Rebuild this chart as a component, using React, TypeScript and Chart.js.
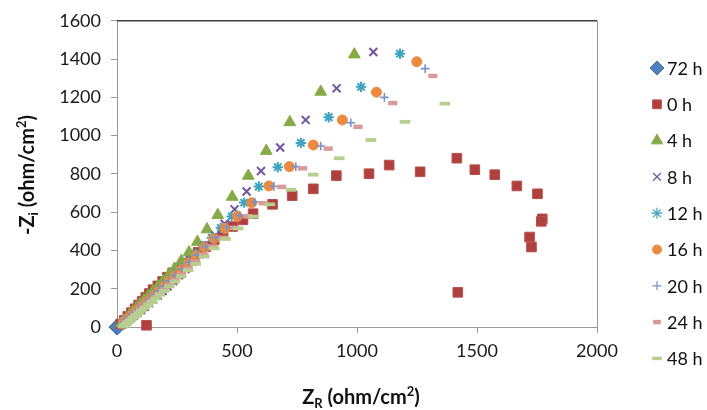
import React, { useEffect, useRef } from 'react';
import { Chart, registerables } from 'chart.js';
import { drawPoint } from 'chart.js/helpers';

Chart.register(...registerables);

// ---- data (Z_R, -Z_i) in ohm/cm2 ----
const seriesNames = ['72 h', '0 h', '4 h', '8 h', '12 h', '16 h', '20 h', '24 h', '48 h'];
const xTicks = [0, 500, 1000, 1500, 2000];
const yTicks = [0, 200, 400, 600, 800, 1000, 1200, 1400, 1600];

const h72: number[][] = [[0, 0], [1, 1], [2, 1]];
const h0: number[][] = [
  [15, 15], [30, 35], [45, 55], [60, 75], [75, 95], [90, 115], [105, 135], [120, 155], [135, 175],
  [150, 195], [170, 215], [190, 238], [210, 260], [232, 283], [255, 307], [280, 333], [308, 360],
  [338, 390], [370, 420], [405, 455], [442, 490], [482, 525], [525, 560], [567, 592], [648, 641],
  [730, 686], [818, 722], [914, 791], [1050, 801], [1134, 846], [1263, 811], [1416, 882],
  [1491, 822], [1574, 796], [1666, 737], [1752, 696], [1772, 565], [1768, 552], [1719, 470],
  [1727, 418], [1420, 181], [123, 9],
];
const h4: number[][] = [
  [18, 20], [28, 32], [40, 46], [52, 62], [65, 80], [80, 98], [95, 118], [112, 140], [130, 162],
  [150, 187], [170, 212], [192, 240], [215, 270], [240, 305], [268, 345], [300, 390], [335, 445],
  [375, 510], [420, 585], [480, 680], [547, 790], [622, 920], [720, 1070], [849, 1229], [989, 1424],
];
const h8: number[][] = [
  [30, 21], [43, 32], [56, 44], [70, 58], [85, 73], [100, 89], [116, 106], [133, 124], [151, 144],
  [170, 165], [190, 188], [211, 212], [234, 240], [258, 270], [285, 303], [313, 340], [343, 380],
  [375, 425], [410, 478], [448, 540], [490, 615], [540, 708], [600, 815], [680, 938], [786, 1082],
  [915, 1247], [1068, 1437],
];
const h12: number[][] = [
  [22, 21], [33, 33], [45, 46], [58, 60], [71, 75], [85, 90], [99, 106], [114, 123], [130, 141],
  [146, 160], [164, 180], [183, 202], [203, 226], [225, 252], [248, 281], [273, 312], [300, 346],
  [329, 383], [360, 422], [395, 467], [433, 518], [478, 578], [530, 650], [591, 734], [670, 835],
  [766, 962], [882, 1096], [1017, 1255], [1179, 1428],
];
const h16: number[][] = [
  [29, 27], [40, 38], [52, 51], [65, 65], [78, 79], [92, 94], [107, 110], [122, 127], [139, 146],
  [156, 166], [175, 188], [196, 212], [218, 239], [242, 268], [269, 300], [298, 335], [330, 373],
  [365, 415], [405, 462], [450, 515], [502, 578], [561, 649], [633, 737], [718, 838], [818, 951],
  [939, 1082], [1081, 1227], [1249, 1386],
];
const h20: number[][] = [
  [29, 27], [40, 39], [52, 52], [65, 66], [78, 80], [92, 95], [106, 111], [122, 128], [138, 147],
  [156, 167], [175, 189], [195, 213], [218, 240], [243, 270], [270, 302], [300, 338], [333, 377],
  [370, 420], [411, 467], [458, 521], [512, 582], [574, 653], [654, 735], [745, 838], [849, 946],
  [974, 1067], [1114, 1200], [1284, 1350],
];
const h24: number[][] = [
  [28, 12], [39, 23], [50, 35], [62, 48], [74, 61], [87, 75], [100, 89], [114, 104], [129, 120],
  [145, 137], [161, 155], [179, 174], [199, 196], [220, 219], [243, 245], [269, 274], [297, 305],
  [328, 340], [362, 378], [400, 420], [442, 466], [490, 518], [545, 578], [609, 647], [686, 732],
  [773, 829], [880, 932], [1004, 1046], [1149, 1170], [1316, 1312],
];
const h48: number[][] = [
  [25, 2], [32, 8], [40, 17], [49, 27], [59, 38], [69, 49], [80, 61], [91, 73], [103, 86],
  [116, 100], [130, 115], [145, 131], [161, 149], [178, 168], [197, 189], [218, 212], [241, 237],
  [267, 265], [296, 296], [328, 330], [364, 368], [405, 411], [452, 460], [505, 515], [567, 577],
  [637, 641], [725, 717], [818, 796], [926, 882], [1058, 977], [1200, 1072], [1366, 1167],
];

const seriesData = [h72, h0, h4, h8, h12, h16, h20, h24, h48];

// ---- styles ----
const styles = [
  { pointStyle: 'rectRot', radius: 8, bg: '#4F81BD', border: '#3F6EA8', bw: 1, lr: 7, lbw: 1 },
  { pointStyle: 'rect', radius: 6.8, bg: '#B0403D', border: '#B5504D', bw: 1, lr: 6.2, lbw: 1 },
  { pointStyle: 'triangle', radius: 6.8, bg: '#86AA46', border: '#86AA46', bw: 1, lr: 6.5, lbw: 1 },
  { pointStyle: 'crossRot', radius: 5.6, bg: '#7256A0', border: '#7256A0', bw: 2, lr: 5.5, lbw: 1.2 },
  { pointStyle: 'star', radius: 5.2, bg: '#3DA3BF', border: '#3DA3BF', bw: 2, lr: 5.5, lbw: 1.2 },
  { pointStyle: 'circle', radius: 5, bg: '#EC8A3F', border: '#EC8A3F', bw: 1, lr: 4.5, lbw: 1 },
  { pointStyle: 'cross', radius: 4.3, bg: '#7394CE', border: '#7394CE', bw: 1.6, lr: 4.5, lbw: 1.2 },
  { pointStyle: 'line', radius: 4.6, bg: '#D99B9A', border: '#D99B9A', bw: 4.5, lr: 3.8, lbw: 4.5 },
  { pointStyle: 'line', radius: 5.3, bg: '#B7CF8E', border: '#B7CF8E', bw: 3.8, lr: 4.8, lbw: 3.5 },
];

const FONT = 'Lato, "Open Sans", sans-serif';

function drawRich(ctx: CanvasRenderingContext2D, parts: { t: string; size: number; dy: number }[], cx: number, baseY: number) {
  let total = 0;
  for (const p of parts) {
    ctx.font = `bold ${p.size}px ${FONT}`;
    total += ctx.measureText(p.t).width;
  }
  let x = cx - total / 2;
  ctx.textAlign = 'left';
  ctx.textBaseline = 'alphabetic';
  for (const p of parts) {
    ctx.font = `bold ${p.size}px ${FONT}`;
    ctx.fillText(p.t, x, baseY + p.dy);
    x += ctx.measureText(p.t).width;
  }
}

const overlayPlugin = {
  id: 'overlay',
  beforeDatasetsDraw(chart: any) {
    const ctx = chart.ctx as CanvasRenderingContext2D;
    const ca = chart.chartArea;
    ctx.save();
    ctx.strokeStyle = '#3f3f3f';
    ctx.lineWidth = 1.5;
    ctx.beginPath();
    ctx.moveTo(ca.left, ca.top);
    ctx.lineTo(ca.right, ca.top);
    ctx.stroke();
    ctx.strokeStyle = '#9a9a9a';
    ctx.lineWidth = 1;
    ctx.beginPath();
    ctx.moveTo(ca.right + 0.5, ca.top);
    ctx.lineTo(ca.right + 0.5, ca.bottom);
    ctx.stroke();
    ctx.restore();
  },
  afterDraw(chart: any) {
    const ctx = chart.ctx as CanvasRenderingContext2D;
    const ca = chart.chartArea;
    ctx.save();
    ctx.fillStyle = '#111';
    // x title
    drawRich(ctx, [
      { t: 'Z', size: 20, dy: 0 },
      { t: 'R', size: 13, dy: 4 },
      { t: ' (ohm/cm', size: 20, dy: 0 },
      { t: '2', size: 13, dy: -8 },
      { t: ')', size: 20, dy: 0 },
    ], (ca.left + ca.right) / 2 + 4, 404);
    // y title
    ctx.save();
    ctx.translate(34, 175);
    ctx.rotate(-Math.PI / 2);
    drawRich(ctx, [
      { t: '-Z', size: 20, dy: 0 },
      { t: 'i', size: 13, dy: 4 },
      { t: ' (ohm/cm', size: 20, dy: 0 },
      { t: '2', size: 13, dy: -8 },
      { t: ')', size: 20, dy: 0 },
    ], 0, 0);
    ctx.restore();
    // legend
    for (let i = 0; i < seriesNames.length; i++) {
      const st = styles[i];
      const y = 68 + i * 36.3;
      ctx.fillStyle = st.bg;
      ctx.strokeStyle = st.border;
      ctx.lineWidth = st.lbw;
      drawPoint(ctx, { pointStyle: st.pointStyle as any, radius: st.lr, borderWidth: st.lbw, rotation: 0 }, 657, y);
      ctx.fillStyle = '#111';
      ctx.font = `18px ${FONT}`;
      ctx.textAlign = 'left';
      ctx.textBaseline = 'middle';
      ctx.fillText(seriesNames[i], 667, y + 1);
    }
    ctx.restore();
  },
};

export default function App() {
  const ref = useRef<HTMLCanvasElement | null>(null);
  useEffect(() => {
    document.body.style.margin = '0';
    const canvas = ref.current!;
    const datasets = seriesData.map((pts, i) => {
      const st = styles[i];
      return {
        label: seriesNames[i],
        data: pts.map((p) => ({ x: p[0], y: p[1] })),
        showLine: false,
        pointStyle: st.pointStyle,
        pointRadius: st.radius,
        pointHoverRadius: st.radius,
        pointBackgroundColor: st.bg,
        pointBorderColor: st.border,
        pointBorderWidth: st.bw,
        clip: false as any,
        order: seriesNames.length - 1 - i,
      };
    });
    const chart = new Chart(canvas, {
      type: 'scatter',
      data: { datasets: datasets as any },
      options: {
        responsive: false,
        animation: false,
        devicePixelRatio: 1,
        layout: { padding: { left: 0, top: 18, right: 110, bottom: 0 } },
        plugins: { legend: { display: false }, tooltip: { enabled: false } },
        scales: {
          x: {
            type: 'linear',
            min: xTicks[0],
            max: xTicks[xTicks.length - 1],
            afterBuildTicks: (s: any) => { s.ticks = xTicks.map((v) => ({ value: v })); },
            afterFit: (s: any) => { s.height = 83; },
            ticks: { color: '#1a1a1a', font: { family: FONT, size: 18 }, padding: 7, callback: (v: any) => String(v) },
            grid: { drawOnChartArea: false, drawTicks: true, tickLength: 6, color: '#9a9a9a' },
            border: { display: true, color: '#9a9a9a', width: 1 },
          },
          y: {
            type: 'linear',
            min: yTicks[0],
            max: yTicks[yTicks.length - 1],
            afterBuildTicks: (s: any) => { s.ticks = yTicks.map((v) => ({ value: v })); },
            afterFit: (s: any) => { s.width = 117; },
            ticks: { color: '#1a1a1a', font: { family: FONT, size: 18 }, padding: 10, callback: (v: any) => String(v) },
            grid: { drawOnChartArea: false, drawTicks: true, tickLength: 6, color: '#9a9a9a' },
            border: { display: true, color: '#9a9a9a', width: 1 },
          },
        },
      },
      plugins: [overlayPlugin],
    });
    return () => chart.destroy();
  }, []);
  return (
    <div style={{ position: 'absolute', left: 0, top: 0, width: 707, height: 410, background: '#fff' }}>
      <canvas ref={ref} width={707} height={410} style={{ display: 'block' }} />
    </div>
  );
}
